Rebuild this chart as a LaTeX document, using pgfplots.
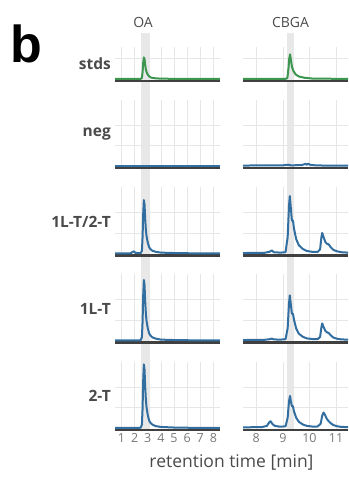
\documentclass[border=0pt]{standalone}
\usepackage{pgfplots}
\pgfplotsset{compat=1.18}
\usepackage{fontspec}
\setmainfont{Open Sans}
\newfontfamily\bfamilyb{Liberation Sans}
\definecolor{bluec}{RGB}{50,110,160}
\definecolor{greenc}{RGB}{60,150,80}
\definecolor{axisc}{RGB}{64,64,64}
\definecolor{bandc}{RGB}{232,232,232}
\definecolor{gridc}{RGB}{230,230,230}
\definecolor{tickc}{RGB}{120,120,120}
\definecolor{labc}{RGB}{74,74,74}
\pgfplotsset{
  panel/.style={scale only axis, width=105pt, height=68pt,
    ymin=-0.1, ymax=3.217,
    axis x line*=bottom, axis y line*=left,
    x axis line style={-, draw=axisc, line width=2.8pt},
    y axis line style={draw=none},
    ytick={1,2}, yticklabels={},
    xmajorgrids, ymajorgrids, grid style={draw=gridc, line width=0.6pt},
    major tick length=0pt, xticklabels={},
    anchor=south west,
    /pgf/number format/assume math mode=true,
    xticklabel style={font=\fontsize{12.5}{13}\selectfont, text=tickc},
  },
  leftp/.style={panel, xmin=0.5, xmax=8.5, xtick={1,2,3,4,5,6,7,8}},
  rightp/.style={panel, xmin=7.5, xmax=11.45, xtick={8,9,10,11}},
  stdsp/.style={height=34pt, ymin=-0.1, ymax=1.559, ytick={1}},
  band/.style={scale only axis, width=105pt, height=397pt, ymin=0, ymax=1, hide axis, anchor=south west},
  bl/.style={color=bluec, line width=2pt, line join=round, no marks},
  gl/.style={color=greenc, line width=2pt, line join=round, no marks},
}
\begin{document}
\begin{tikzpicture}
\useasboundingbox (0pt,0pt) rectangle (348pt,481pt);
\begin{pgfinterruptboundingbox}
% bands
\begin{axis}[band, at={(115pt,51pt)}, xmin=0.5, xmax=8.5]
\addplot[fill=bandc, draw=none] coordinates {(2.5,0) (3.2,0) (3.2,1) (2.5,1)} -- cycle;
\end{axis}
\begin{axis}[band, at={(243pt,51pt)}, xmin=7.5, xmax=11.45]
\addplot[fill=bandc, draw=none] coordinates {(9.155,0) (9.43,0) (9.43,1) (9.155,1)} -- cycle;
\end{axis}
% stds
\begin{axis}[leftp, stdsp, at={(115pt,400pt)}]
\addplot[gl] coordinates {(0.5,0) (2.0,0) (2.45,0.005) (2.55,0.05) (2.6,0.32) (2.65,0.79) (2.7,1.05) (2.75,0.97) (2.8,0.68) (2.85,0.47) (2.9,0.35) (2.95,0.27) (3.0,0.21) (3.1,0.13) (3.2,0.08) (3.35,0.05) (3.6,0.03) (4.0,0.015) (5.0,0.005) (8.5,0)};
\end{axis}
\begin{axis}[rightp, stdsp, at={(243pt,400pt)}]
\addplot[gl] coordinates {(7.5,0) (9.1,0) (9.17,0.05) (9.21,0.5) (9.24,1.0) (9.27,1.2) (9.3,0.95) (9.34,0.6) (9.4,0.38) (9.48,0.22) (9.6,0.12) (9.8,0.06) (10.1,0.02) (11.45,0)};
\end{axis}
% neg
\begin{axis}[leftp, at={(115pt,313pt)}]
\addplot[bl] coordinates {(0.5,0) (8.5,0)};
\end{axis}
\begin{axis}[rightp, at={(243pt,313pt)}]
\addplot[bl] coordinates {(7.5,0.02) (9.0,0.03) (9.2,0.06) (9.3,0.03) (9.7,0.04) (9.85,0.1) (9.9,0.06) (9.95,0.11) (10.05,0.04) (10.5,0.02) (11.45,0.02)};
\end{axis}
% 1L-T/2-T
\begin{axis}[leftp, at={(115pt,225.5pt)}]
\addplot[bl] coordinates {(0.5,0) (1.7,0.01) (1.85,0.08) (1.95,0.1) (2.05,0.03) (2.45,0.01) (2.55,0.13) (2.6,0.78) (2.65,1.95) (2.7,2.6) (2.75,2.39) (2.8,1.69) (2.85,1.17) (2.9,0.86) (2.95,0.68) (3.0,0.52) (3.1,0.31) (3.2,0.21) (3.35,0.13) (3.6,0.08) (4.0,0.04) (5.0,0.02) (6.0,0.01) (8.5,0)};
\end{axis}
\begin{axis}[rightp, at={(243pt,225.5pt)}]
\addplot[bl] coordinates {(7.5,0.02) (8.3,0.03) (8.5,0.08) (8.58,0.15) (8.66,0.06) (8.9,0.04) (9.1,0.06) (9.18,0.8) (9.23,2.3) (9.26,2.8) (9.3,2.2) (9.34,1.6) (9.38,1.6) (9.42,1.2) (9.5,0.7) (9.6,0.4) (9.75,0.22) (9.9,0.12) (10.1,0.08) (10.3,0.07) (10.4,0.2) (10.45,0.8) (10.48,1.0) (10.53,0.8) (10.6,0.55) (10.68,0.45) (10.72,0.45) (10.8,0.3) (10.9,0.17) (11.05,0.1) (11.2,0.06) (11.45,0.04)};
\end{axis}
% 1L-T
\begin{axis}[leftp, at={(115pt,138.5pt)}]
\addplot[bl] coordinates {(0.5,0) (2.0,0) (2.45,0.01) (2.55,0.15) (2.6,0.89) (2.65,2.21) (2.7,2.95) (2.75,2.71) (2.8,1.92) (2.85,1.33) (2.9,0.97) (2.95,0.77) (3.0,0.59) (3.1,0.35) (3.2,0.24) (3.35,0.15) (3.6,0.09) (4.0,0.04) (5.0,0.02) (6.0,0.01) (8.5,0)};
\end{axis}
\begin{axis}[rightp, at={(243pt,138.5pt)}]
\addplot[bl] coordinates {(7.5,0.02) (8.3,0.03) (8.5,0.06) (8.58,0.09) (8.66,0.05) (8.9,0.04) (9.1,0.06) (9.18,0.6) (9.23,1.8) (9.26,2.2) (9.3,1.75) (9.34,1.3) (9.38,1.3) (9.42,1.0) (9.5,0.58) (9.6,0.33) (9.75,0.18) (9.9,0.1) (10.1,0.07) (10.3,0.06) (10.4,0.17) (10.45,0.65) (10.48,0.83) (10.53,0.66) (10.6,0.46) (10.68,0.38) (10.72,0.37) (10.8,0.25) (10.9,0.14) (11.05,0.08) (11.2,0.05) (11.45,0.04)};
\end{axis}
% 2-T
\begin{axis}[leftp, at={(115pt,51pt)}, xticklabels={1,2,3,4,5,6,7,8}]
\addplot[bl] coordinates {(0.5,0) (2.0,0) (2.45,0.01) (2.55,0.16) (2.6,0.93) (2.65,2.33) (2.7,3.1) (2.75,2.85) (2.8,2.02) (2.85,1.4) (2.9,1.02) (2.95,0.81) (3.0,0.62) (3.1,0.37) (3.2,0.25) (3.35,0.16) (3.6,0.09) (4.0,0.05) (5.0,0.02) (6.0,0.01) (8.5,0)};
\end{axis}
\begin{axis}[rightp, at={(243pt,51pt)}, xticklabels={8,9,10,11}]
\addplot[bl] coordinates {(7.5,0.03) (8.2,0.04) (8.4,0.1) (8.5,0.3) (8.54,0.33) (8.6,0.2) (8.7,0.1) (8.9,0.06) (9.1,0.08) (9.18,0.5) (9.23,1.3) (9.27,1.56) (9.3,1.3) (9.34,1.07) (9.38,1.05) (9.42,0.8) (9.5,0.5) (9.6,0.3) (9.75,0.17) (9.9,0.1) (10.1,0.07) (10.3,0.07) (10.42,0.2) (10.48,0.6) (10.53,0.75) (10.58,0.65) (10.65,0.45) (10.72,0.33) (10.8,0.23) (10.9,0.14) (11.05,0.08) (11.2,0.05) (11.45,0.04)};
\end{axis}
% texts
\node[anchor=base west, inner sep=0, text=black] at (10pt,418pt) {\bfamilyb\bfseries\fontsize{52}{52}\selectfont b};
\node[anchor=base, inner sep=0, text=labc] at (143pt,453.7pt) {\fontsize{14}{14}\selectfont OA};
\node[anchor=base, inner sep=0, text=labc] at (290.5pt,453.7pt) {\fontsize{14}{14}\selectfont CBGA};
\begin{scope}[every node/.style={anchor=east, inner sep=0, text=labc, font=\bfseries\fontsize{15.5}{16}\selectfont}]
\node at (111pt,417pt) {stds};
\node at (111pt,347pt) {neg};
\node at (111pt,259pt) {1L-T/2-T};
\node at (111pt,172pt) {1L-T};
\node at (111pt,85pt) {2-T};
\end{scope}
\node[anchor=base, inner sep=0, text=labc] at (231.5pt,13pt) {\fontsize{17.5}{18}\selectfont retention time [min]};
\end{pgfinterruptboundingbox}
\end{tikzpicture}
\end{document}
